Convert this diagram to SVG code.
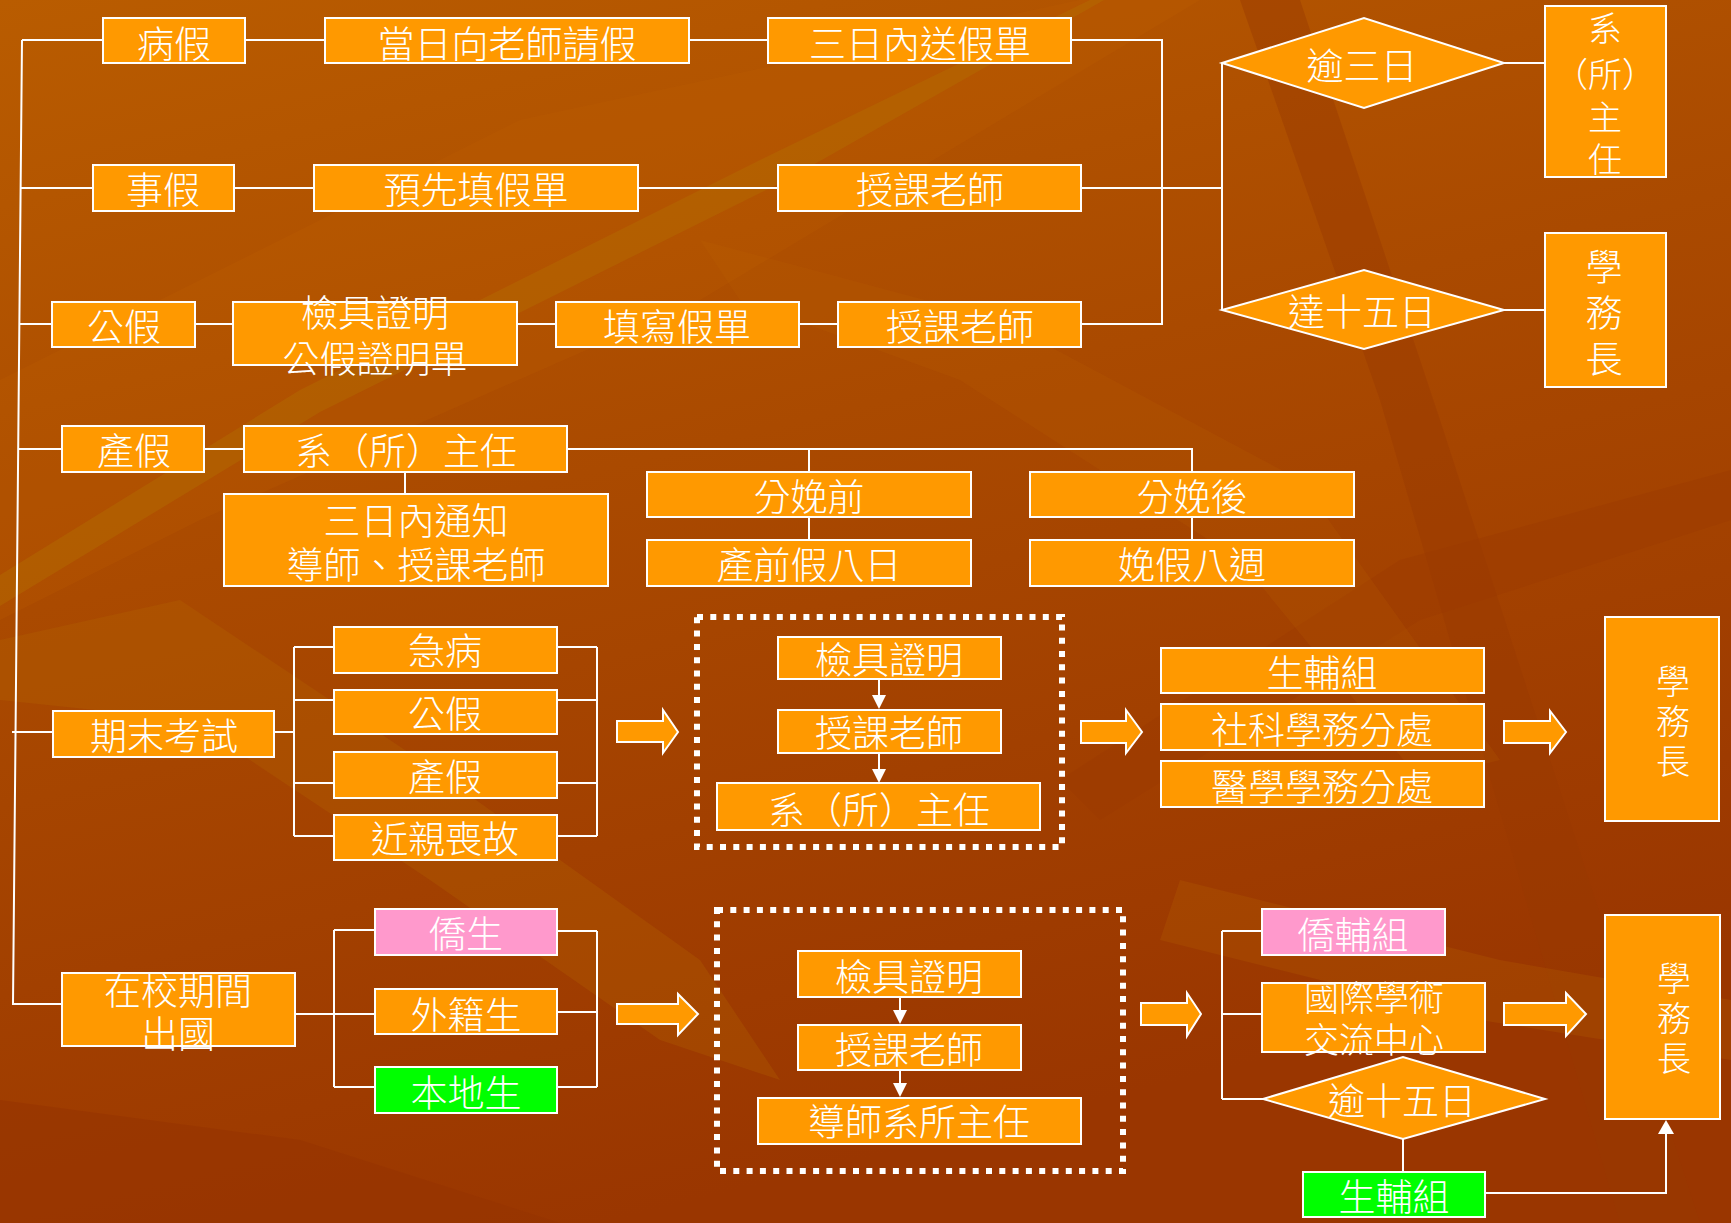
<svg xmlns="http://www.w3.org/2000/svg" width="1731" height="1223" viewBox="0 0 1731 1223">
<defs>
<linearGradient id="bg" x1="0" y1="0" x2="0.35" y2="1">
<stop offset="0" stop-color="#B95C00"/>
<stop offset="0.45" stop-color="#AA4A00"/>
<stop offset="1" stop-color="#9A3600"/>
</linearGradient>
<style>
.b{fill:#FF9900;stroke:#FFFFFF;stroke-width:2}
.p{fill:#FF99CC;stroke:#FFFFFF;stroke-width:2}
.g{fill:#00FF00;stroke:#FFFFFF;stroke-width:2}
.t{font-family:"Noto Sans CJK TC","Noto Sans CJK SC",sans-serif;font-size:37px;font-weight:300;fill:#FFFFFF;text-anchor:middle}
.v{font-size:34px}
.s{font-size:35px}
.c{stroke:#FFFFFF;stroke-width:2;fill:none}
.h{fill:#FFFFFF;stroke:none}
.d{fill:none;stroke:#FFFFFF;stroke-width:6;stroke-dasharray:6 7.3}
.ba{fill:#FF9900;stroke:#FFFFFF;stroke-width:2;stroke-linejoin:miter}
</style>
</defs>
<g id="background">
<rect x="0" y="0" width="1731" height="1223" fill="url(#bg)"/>
<polygon points="0,380 520,120 1080,0 1200,0 700,300 200,520 0,620" fill="#C06400" opacity="0.18"/>
<polygon points="0,575 300,390 760,160 1090,0 1104,0 790,178 320,412 0,606" fill="#B47000" opacity="0.4"/>
<polygon points="1240,0 1300,0 1440,420 1700,1223 1620,1223 1380,400" fill="#9A3A00" opacity="0.45"/>
<polygon points="1060,780 1400,560 1731,470 1731,520 1420,620 1100,820" fill="#9A3A00" opacity="0.4"/>
<polygon points="0,1100 300,1140 560,1223 0,1223" fill="#963300" opacity="0.6"/>
<polygon points="0,640 180,600 420,760 700,960 780,1080 660,1040 430,880 190,720 0,700" fill="#B66A00" opacity="0.25"/>
<polygon points="700,240 1000,320 1300,480 1500,760 1420,780 1240,560 960,380 740,300" fill="#BE6400" opacity="0.18"/>
<polygon points="1180,880 1500,960 1731,1000 1731,1060 1480,1020 1160,940" fill="#B86200" opacity="0.25"/>
</g>
<g id="connectors">
<polyline class="c" points="22,40 13,1004 62,1004"/>
<line class="c" x1="22" y1="40" x2="103" y2="40"/>
<line class="c" x1="245" y1="40" x2="325" y2="40"/>
<line class="c" x1="689" y1="40" x2="768" y2="40"/>
<polyline class="c" points="1071,40 1162,40 1162,324 1081,324"/>
<line class="c" x1="21" y1="188" x2="93" y2="188"/>
<line class="c" x1="234" y1="188" x2="314" y2="188"/>
<line class="c" x1="637" y1="188" x2="778" y2="188"/>
<line class="c" x1="1081" y1="188" x2="1222" y2="188"/>
<line class="c" x1="20" y1="324" x2="52" y2="324"/>
<line class="c" x1="195" y1="324" x2="233" y2="324"/>
<line class="c" x1="517" y1="324" x2="556" y2="324"/>
<line class="c" x1="799" y1="324" x2="838" y2="324"/>
<line class="c" x1="1222" y1="63" x2="1222" y2="310"/>
<line class="c" x1="1504" y1="63" x2="1545" y2="63"/>
<line class="c" x1="1504" y1="310" x2="1545" y2="310"/>
<line class="c" x1="19" y1="449" x2="62" y2="449"/>
<line class="c" x1="204" y1="449" x2="244" y2="449"/>
<line class="c" x1="405" y1="472" x2="405" y2="494"/>
<polyline class="c" points="567,449 1192,449 1192,472"/>
<line class="c" x1="809" y1="449" x2="809" y2="472"/>
<line class="c" x1="809" y1="517" x2="809" y2="540"/>
<line class="c" x1="1192" y1="517" x2="1192" y2="540"/>
<line class="c" x1="12" y1="732" x2="53" y2="732"/>
<line class="c" x1="274" y1="732" x2="294" y2="732"/>
<line class="c" x1="294" y1="647" x2="294" y2="836"/>
<line class="c" x1="294" y1="647" x2="334" y2="647"/>
<line class="c" x1="294" y1="700" x2="334" y2="700"/>
<line class="c" x1="294" y1="783" x2="334" y2="783"/>
<line class="c" x1="294" y1="836" x2="334" y2="836"/>
<line class="c" x1="557" y1="647" x2="597" y2="647"/>
<line class="c" x1="557" y1="700" x2="597" y2="700"/>
<line class="c" x1="557" y1="783" x2="597" y2="783"/>
<line class="c" x1="557" y1="836" x2="597" y2="836"/>
<line class="c" x1="597" y1="647" x2="597" y2="836"/>
<line class="c" x1="879" y1="679" x2="879" y2="696"/>
<polygon class="h" points="872,695 886,695 879,709"/>
<line class="c" x1="879" y1="753" x2="879" y2="770"/>
<polygon class="h" points="872,769 886,769 879,783"/>
<line class="c" x1="295" y1="1014" x2="375" y2="1014"/>
<line class="c" x1="334" y1="930" x2="334" y2="1087"/>
<line class="c" x1="334" y1="930" x2="375" y2="930"/>
<line class="c" x1="334" y1="1087" x2="375" y2="1087"/>
<line class="c" x1="557" y1="931" x2="597" y2="931"/>
<line class="c" x1="557" y1="1012" x2="597" y2="1012"/>
<line class="c" x1="557" y1="1087" x2="597" y2="1087"/>
<line class="c" x1="597" y1="931" x2="597" y2="1087"/>
<line class="c" x1="900" y1="997" x2="900" y2="1011"/>
<polygon class="h" points="893,1010 907,1010 900,1024"/>
<line class="c" x1="900" y1="1070" x2="900" y2="1084"/>
<polygon class="h" points="893,1083 907,1083 900,1097"/>
<line class="c" x1="1222" y1="931" x2="1222" y2="1099"/>
<line class="c" x1="1222" y1="931" x2="1262" y2="931"/>
<line class="c" x1="1222" y1="1014" x2="1262" y2="1014"/>
<line class="c" x1="1222" y1="1099" x2="1263" y2="1099"/>
<line class="c" x1="1403" y1="1139" x2="1403" y2="1172"/>
<polyline class="c" points="1485,1193 1666,1193 1666,1134"/>
<polygon class="h" points="1658,1134 1674,1134 1666,1120"/>
<polygon class="ba" points="617,721 663,721 663,710 678,732 663,753 663,742 617,742"/>
<polygon class="ba" points="1081,721 1126,721 1126,710 1142,732 1126,753 1126,743 1081,743"/>
<polygon class="ba" points="1504,721 1550,721 1550,711 1566,732 1550,753 1550,743 1504,743"/>
<polygon class="ba" points="617,1004 678,1004 678,994 698,1014 678,1035 678,1024 617,1024"/>
<polygon class="ba" points="1141,1003 1187,1003 1187,993 1201,1014 1187,1036 1187,1025 1141,1025"/>
<polygon class="ba" points="1504,1003 1566,1003 1566,993 1586,1014 1566,1036 1566,1025 1504,1025"/>
</g>
<g id="group-exam"><rect class="d" x="697" y="617" width="365" height="230"/></g>
<g id="group-abroad"><rect class="d" x="717" y="910" width="406" height="261"/></g>
<g id="n1"><rect class="b" x="103" y="18" width="142" height="45"/><text class="t" x="174" y="58">病假</text></g>
<g id="n2"><rect class="b" x="325" y="18" width="364" height="45"/><text class="t" x="507" y="58">當日向老師請假</text></g>
<g id="n3"><rect class="b" x="768" y="18" width="303" height="45"/><text class="t" x="920" y="58">三日內送假單</text></g>
<g id="n4"><rect class="b" x="93" y="165" width="141" height="46"/><text class="t" x="163" y="204">事假</text></g>
<g id="n5"><rect class="b" x="314" y="165" width="324" height="46"/><text class="t" x="476" y="204">預先填假單</text></g>
<g id="n6"><rect class="b" x="778" y="165" width="303" height="46"/><text class="t" x="930" y="204">授課老師</text></g>
<g id="n7"><rect class="b" x="52" y="302" width="143" height="45"/><text class="t" x="124" y="341">公假</text></g>
<g id="n8"><rect class="b" x="233" y="302" width="284" height="63"/><text class="t"><tspan x="375" y="327">檢具證明</tspan><tspan x="375" y="373">公假證明單</tspan></text></g>
<g id="n9"><rect class="b" x="556" y="302" width="243" height="45"/><text class="t" x="677" y="341">填寫假單</text></g>
<g id="n10"><rect class="b" x="838" y="302" width="243" height="45"/><text class="t" x="960" y="341">授課老師</text></g>
<g id="n11"><polygon class="b" points="1222,63 1364,18 1504,63 1364,108"/><text class="t" x="1362" y="80">逾三日</text></g>
<g id="n12"><polygon class="b" points="1222,310 1364,270 1504,310 1364,349"/><text class="t" x="1362" y="326">達十五日</text></g>
<g id="n13"><rect class="b" x="1545" y="6" width="121" height="171"/><text class="t v"><tspan x="1605" y="41">系</tspan><tspan x="1605" y="87">（所）</tspan><tspan x="1605" y="130">主</tspan><tspan x="1605" y="172">任</tspan></text></g>
<g id="n14"><rect class="b" x="1545" y="233" width="121" height="154"/><text class="t"><tspan x="1604" y="281">學</tspan><tspan x="1604" y="327">務</tspan><tspan x="1604" y="373">長</tspan></text></g>
<g id="n15"><rect class="b" x="62" y="426" width="142" height="46"/><text class="t" x="134" y="465">產假</text></g>
<g id="n16"><rect class="b" x="244" y="426" width="323" height="46"/><text class="t" x="406" y="465">系（所）主任</text></g>
<g id="n17"><rect class="b" x="224" y="494" width="384" height="92"/><text class="t"><tspan x="416" y="535">三日內通知</tspan><tspan x="416" y="579">導師、授課老師</tspan></text></g>
<g id="n18"><rect class="b" x="647" y="472" width="324" height="45"/><text class="t" x="809" y="511">分娩前</text></g>
<g id="n19"><rect class="b" x="1030" y="472" width="324" height="45"/><text class="t" x="1192" y="511">分娩後</text></g>
<g id="n20"><rect class="b" x="647" y="540" width="324" height="46"/><text class="t" x="809" y="579">產前假八日</text></g>
<g id="n21"><rect class="b" x="1030" y="540" width="324" height="46"/><text class="t" x="1192" y="579">娩假八週</text></g>
<g id="n22"><rect class="b" x="53" y="711" width="221" height="46"/><text class="t" x="164" y="750">期末考試</text></g>
<g id="n23"><rect class="b" x="334" y="627" width="223" height="46"/><text class="t" x="445" y="665">急病</text></g>
<g id="n24"><rect class="b" x="334" y="690" width="223" height="44"/><text class="t" x="445" y="728">公假</text></g>
<g id="n25"><rect class="b" x="334" y="752" width="223" height="46"/><text class="t" x="445" y="791">產假</text></g>
<g id="n26"><rect class="b" x="334" y="815" width="223" height="45"/><text class="t" x="445" y="853">近親喪故</text></g>
<g id="n27"><rect class="b" x="778" y="637" width="223" height="42"/><text class="t" x="889" y="674">檢具證明</text></g>
<g id="n28"><rect class="b" x="778" y="710" width="223" height="43"/><text class="t" x="889" y="747">授課老師</text></g>
<g id="n29"><rect class="b" x="717" y="783" width="323" height="47"/><text class="t" x="879" y="824">系（所）主任</text></g>
<g id="n30"><rect class="b" x="1161" y="648" width="323" height="45"/><text class="t" x="1322" y="687">生輔組</text></g>
<g id="n31"><rect class="b" x="1161" y="704" width="323" height="46"/><text class="t" x="1322" y="744">社科學務分處</text></g>
<g id="n32"><rect class="b" x="1161" y="761" width="323" height="46"/><text class="t" x="1322" y="801">醫學學務分處</text></g>
<g id="n33"><rect class="b" x="1605" y="617" width="114" height="204"/><text class="t v"><tspan x="1673" y="694">學</tspan><tspan x="1673" y="734">務</tspan><tspan x="1673" y="774">長</tspan></text></g>
<g id="n34"><rect class="b" x="62" y="973" width="233" height="73"/><text class="t"><tspan x="178" y="1005">在校期間</tspan><tspan x="178" y="1048">出國</tspan></text></g>
<g id="n35"><rect class="p" x="375" y="909" width="182" height="46"/><text class="t" x="466" y="948">僑生</text></g>
<g id="n36"><rect class="b" x="375" y="989" width="182" height="45"/><text class="t" x="466" y="1029">外籍生</text></g>
<g id="n37"><rect class="g" x="375" y="1067" width="182" height="46"/><text class="t" x="466" y="1107">本地生</text></g>
<g id="n38"><rect class="b" x="798" y="951" width="223" height="46"/><text class="t" x="909" y="991">檢具證明</text></g>
<g id="n39"><rect class="b" x="798" y="1025" width="223" height="45"/><text class="t" x="909" y="1064">授課老師</text></g>
<g id="n40"><rect class="b" x="758" y="1098" width="323" height="46"/><text class="t" x="919" y="1136">導師系所主任</text></g>
<g id="n41"><rect class="p" x="1262" y="909" width="183" height="46"/><text class="t" x="1353" y="949">僑輔組</text></g>
<g id="n42"><rect class="b" x="1262" y="983" width="223" height="69"/><text class="t s"><tspan x="1374" y="1011">國際學術</tspan><tspan x="1374" y="1053">交流中心</tspan></text></g>
<g id="n43"><polygon class="b" points="1263,1099 1403,1057 1545,1099 1403,1139"/><text class="t" x="1402" y="1115">逾十五日</text></g>
<g id="n44"><rect class="g" x="1303" y="1172" width="182" height="45"/><text class="t" x="1394" y="1211">生輔組</text></g>
<g id="n45"><rect class="b" x="1605" y="915" width="115" height="204"/><text class="t v"><tspan x="1674" y="991">學</tspan><tspan x="1674" y="1031">務</tspan><tspan x="1674" y="1071">長</tspan></text></g>
</svg>
